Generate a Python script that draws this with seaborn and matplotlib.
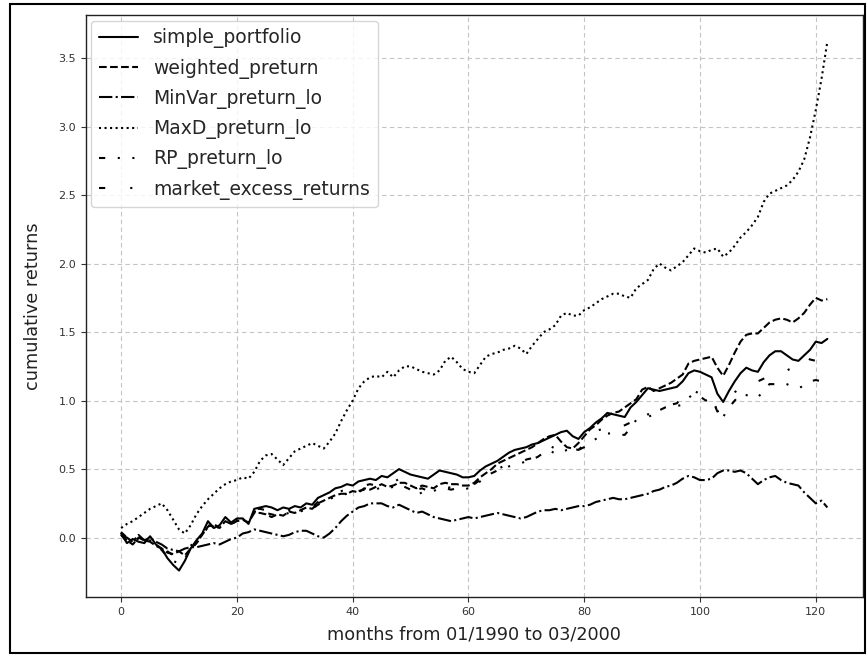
import matplotlib
matplotlib.use("Agg")
import matplotlib.pyplot as plt
from matplotlib.patches import Rectangle
import numpy as np
import seaborn as sns

months = list(range(123))

simple_portfolio = [
    0.03, -0.04, -0.01, -0.03, -0.04, 0.01, -0.05, -0.08, -0.15, -0.20,
    -0.24, -0.17, -0.08, -0.02, 0.03, 0.12, 0.07, 0.09, 0.15, 0.11,
    0.14, 0.14, 0.10, 0.21, 0.22, 0.23, 0.22, 0.20, 0.22, 0.21,
    0.23, 0.22, 0.25, 0.24, 0.29, 0.31, 0.33, 0.36, 0.37, 0.39,
    0.38, 0.41, 0.42, 0.43, 0.42, 0.45, 0.44, 0.47, 0.50, 0.48,
    0.46, 0.45, 0.44, 0.43, 0.46, 0.49, 0.48, 0.47, 0.46, 0.44,
    0.44, 0.45, 0.49, 0.52, 0.54, 0.56, 0.59, 0.62, 0.64, 0.65,
    0.66, 0.68, 0.69, 0.71, 0.73, 0.75, 0.77, 0.78, 0.74, 0.72,
    0.77, 0.80, 0.84, 0.87, 0.91, 0.90, 0.89, 0.88, 0.95, 0.99,
    1.04, 1.09, 1.08, 1.07, 1.08, 1.09, 1.10, 1.14, 1.20, 1.22,
    1.21, 1.19, 1.17, 1.05, 0.99, 1.07, 1.14, 1.20, 1.24, 1.22,
    1.21, 1.28, 1.33, 1.36, 1.36, 1.33, 1.30, 1.29, 1.33, 1.37,
    1.43, 1.42, 1.45,
]

weighted_preturn = [
    0.02, -0.02, -0.05, 0.00, -0.02, -0.03, -0.06, -0.08, -0.11, -0.12,
    -0.10, -0.13, -0.08, -0.04, 0.02, 0.08, 0.10, 0.07, 0.12, 0.10,
    0.12, 0.13, 0.11, 0.18, 0.18, 0.17, 0.15, 0.17, 0.16, 0.19,
    0.18, 0.20, 0.22, 0.21, 0.25, 0.27, 0.29, 0.31, 0.32, 0.32,
    0.34, 0.33, 0.36, 0.35, 0.37, 0.39, 0.37, 0.38, 0.40, 0.40,
    0.38, 0.36, 0.38, 0.37, 0.36, 0.39, 0.40, 0.39, 0.39, 0.38,
    0.38, 0.40, 0.44, 0.47, 0.50, 0.54, 0.56, 0.58, 0.60, 0.62,
    0.64, 0.66, 0.69, 0.72, 0.74, 0.75, 0.70, 0.66, 0.65, 0.69,
    0.74, 0.79, 0.82, 0.86, 0.89, 0.91, 0.92, 0.95, 0.98, 1.01,
    1.08, 1.10, 1.07, 1.09, 1.11, 1.13, 1.16, 1.19, 1.27, 1.29,
    1.30, 1.31, 1.32, 1.24, 1.18, 1.26, 1.35, 1.43, 1.48, 1.49,
    1.49, 1.53, 1.57, 1.59, 1.60, 1.59, 1.57, 1.60, 1.64, 1.70,
    1.75, 1.73, 1.74,
]

minvar_preturn_lo = [
    0.02, 0.00, -0.03, 0.02, -0.02, 0.00, -0.03, -0.05, -0.08, -0.09,
    -0.10, -0.08, -0.07, -0.07, -0.06, -0.05, -0.04, -0.05, -0.03, -0.01,
    0.00, 0.03, 0.04, 0.06, 0.05, 0.04, 0.03, 0.02, 0.01, 0.02,
    0.04, 0.05, 0.05, 0.03, 0.01, 0.00, 0.03, 0.07, 0.12, 0.16,
    0.19, 0.22, 0.23, 0.25, 0.25, 0.25, 0.23, 0.22, 0.24, 0.22,
    0.20, 0.18, 0.19, 0.17, 0.15, 0.14, 0.13, 0.12, 0.13, 0.14,
    0.15, 0.14, 0.15, 0.16, 0.17, 0.18, 0.17, 0.16, 0.15, 0.14,
    0.15, 0.17, 0.19, 0.20, 0.20, 0.21, 0.20, 0.21, 0.22, 0.23,
    0.23, 0.24, 0.26, 0.27, 0.28, 0.29, 0.28, 0.28, 0.29, 0.30,
    0.31, 0.32, 0.34, 0.35, 0.37, 0.38, 0.40, 0.43, 0.45, 0.44,
    0.42, 0.42, 0.43, 0.47, 0.49, 0.49, 0.48, 0.49, 0.47, 0.43,
    0.39, 0.42, 0.44, 0.45, 0.42, 0.40, 0.39, 0.38, 0.33, 0.29,
    0.25, 0.27, 0.22,
]

maxd_preturn_lo = [
    0.07, 0.10, 0.12, 0.15, 0.18, 0.21, 0.23, 0.25, 0.20, 0.13,
    0.06, 0.03, 0.09, 0.17, 0.23, 0.28, 0.32, 0.36, 0.39, 0.41,
    0.42, 0.44, 0.43, 0.48, 0.56, 0.60, 0.61, 0.57, 0.53, 0.58,
    0.63, 0.65, 0.67, 0.69, 0.67, 0.65, 0.70, 0.76, 0.85, 0.93,
    1.00, 1.09, 1.14, 1.17, 1.18, 1.17, 1.21, 1.17, 1.22, 1.25,
    1.25, 1.23, 1.21, 1.20, 1.19, 1.22, 1.29, 1.32, 1.28, 1.23,
    1.21, 1.20, 1.26, 1.32, 1.34, 1.35, 1.37, 1.38, 1.40, 1.38,
    1.34, 1.40, 1.45, 1.50, 1.52, 1.55, 1.62, 1.64, 1.62, 1.62,
    1.66, 1.68, 1.71, 1.74, 1.76, 1.78, 1.78, 1.76, 1.75, 1.82,
    1.85, 1.88, 1.96, 2.00, 1.97, 1.95, 1.98, 2.01, 2.06, 2.11,
    2.09, 2.08, 2.10, 2.11, 2.05, 2.08, 2.13, 2.19, 2.23, 2.28,
    2.34, 2.45, 2.51, 2.53, 2.55, 2.57, 2.61, 2.67, 2.76, 2.92,
    3.12, 3.35, 3.62,
]

rp_preturn_lo = [
    0.02, -0.03, -0.02, -0.01, -0.04, -0.02, -0.06, -0.09, -0.14, -0.17,
    -0.19, -0.15, -0.09, -0.04, 0.01, 0.08, 0.06, 0.08, 0.12, 0.10,
    0.12, 0.13, 0.11, 0.19, 0.19, 0.18, 0.17, 0.16, 0.17, 0.18,
    0.19, 0.19, 0.21, 0.21, 0.24, 0.26, 0.28, 0.30, 0.31, 0.32,
    0.32, 0.34, 0.35, 0.35, 0.35, 0.37, 0.36, 0.37, 0.39, 0.37,
    0.35, 0.31, 0.33, 0.33, 0.34, 0.36, 0.36, 0.35, 0.36, 0.35,
    0.36, 0.38, 0.41, 0.44, 0.47, 0.49, 0.50, 0.52, 0.53, 0.54,
    0.56, 0.57, 0.59, 0.62, 0.64, 0.61, 0.62, 0.64, 0.65, 0.64,
    0.66, 0.69, 0.72, 0.74, 0.76, 0.76, 0.75, 0.75, 0.80, 0.86,
    0.88, 0.90, 0.90, 0.93, 0.95, 0.95, 0.96, 0.97, 1.02, 1.05,
    1.03, 1.00, 1.01, 0.93, 0.88, 0.95, 1.00, 1.05, 1.04, 1.03,
    1.02, 1.08, 1.12, 1.12, 1.13, 1.12, 1.10, 1.09, 1.11, 1.14,
    1.15, 1.14, 1.13,
]

market_excess_returns = [
    0.04, 0.00, -0.03, 0.01, -0.03, -0.01, -0.04, -0.06, -0.10, -0.13,
    -0.15, -0.12, -0.06, -0.02, 0.03, 0.09, 0.08, 0.09, 0.13, 0.11,
    0.13, 0.15, 0.21, 0.21, 0.21, 0.20, 0.19, 0.20, 0.19, 0.20,
    0.21, 0.21, 0.23, 0.22, 0.26, 0.28, 0.30, 0.33, 0.34, 0.35,
    0.35, 0.37, 0.38, 0.39, 0.38, 0.40, 0.39, 0.40, 0.43, 0.41,
    0.38, 0.35, 0.36, 0.34, 0.36, 0.36, 0.38, 0.36, 0.35, 0.36,
    0.37, 0.39, 0.42, 0.44, 0.47, 0.50, 0.52, 0.53, 0.55, 0.54,
    0.57, 0.58, 0.60, 0.63, 0.67, 0.65, 0.63, 0.62, 0.65, 0.64,
    0.68, 0.73, 0.78, 0.79, 0.80, 0.78, 0.80, 0.82, 0.84, 0.89,
    0.86, 0.88, 0.90, 0.93, 0.96, 0.97, 0.98, 1.03, 1.09, 1.07,
    1.05, 1.04, 1.02, 0.92, 0.94, 1.00, 1.06, 1.10, 1.12, 1.13,
    1.14, 1.16, 1.18, 1.20, 1.21, 1.22, 1.24, 1.26, 1.32, 1.30,
    1.29, 1.31, 1.32,
]

series = [
    ("simple_portfolio", simple_portfolio, "-"),
    ("weighted_preturn", weighted_preturn, "--"),
    ("MinVar_preturn_lo", minvar_preturn_lo, "-."),
    ("MaxD_preturn_lo", maxd_preturn_lo, ":"),
    ("RP_preturn_lo", rp_preturn_lo, (0, (3, 6, 1, 6, 1, 6))),
    ("market_excess_returns", market_excess_returns, (0, (3, 12, 1, 12))),
]

sns.set_style("ticks")
plt.rcParams["font.family"] = ["DejaVu Sans"]

fig = plt.figure(figsize=(8.67, 6.56), dpi=100)
ax = fig.add_axes([0.099, 0.09, 0.896, 0.887])

for name, vals, ls in series:
    sns.lineplot(x=months, y=vals, ax=ax, color="black", linewidth=1.5,
                 linestyle=ls, label=name)

ax.grid(True, linestyle=(0, (4, 3)), color="#c4c4c4", linewidth=0.8)
ax.set_axisbelow(True)
ax.set_xlabel("months from 01/1990 to 03/2000", fontsize=12.7,
              color="#222222", labelpad=6)
ax.set_ylabel("cumulative returns", fontsize=12.7, color="#222222",
              labelpad=12)
ax.tick_params(axis="both", labelsize=8, colors="#333333", length=3.5,
               direction="out")
ax.set_yticks(np.arange(0, 3.51, 0.5))
ax.set_xticks(np.arange(0, 121, 20))
for sp in ax.spines.values():
    sp.set_color("#222222")
    sp.set_linewidth(1.0)

leg = ax.legend(loc="upper left", fontsize=13.5, handlelength=2.1,
                frameon=True, fancybox=True, framealpha=0.8,
                edgecolor="#cccccc", borderaxespad=0.3,
                labelspacing=0.55)

fig.patches.append(Rectangle((0.011, 0.004), 0.987, 0.99,
                             transform=fig.transFigure, fill=False,
                             edgecolor="black", linewidth=1.5))

fig.savefig("out.png", dpi=100)
